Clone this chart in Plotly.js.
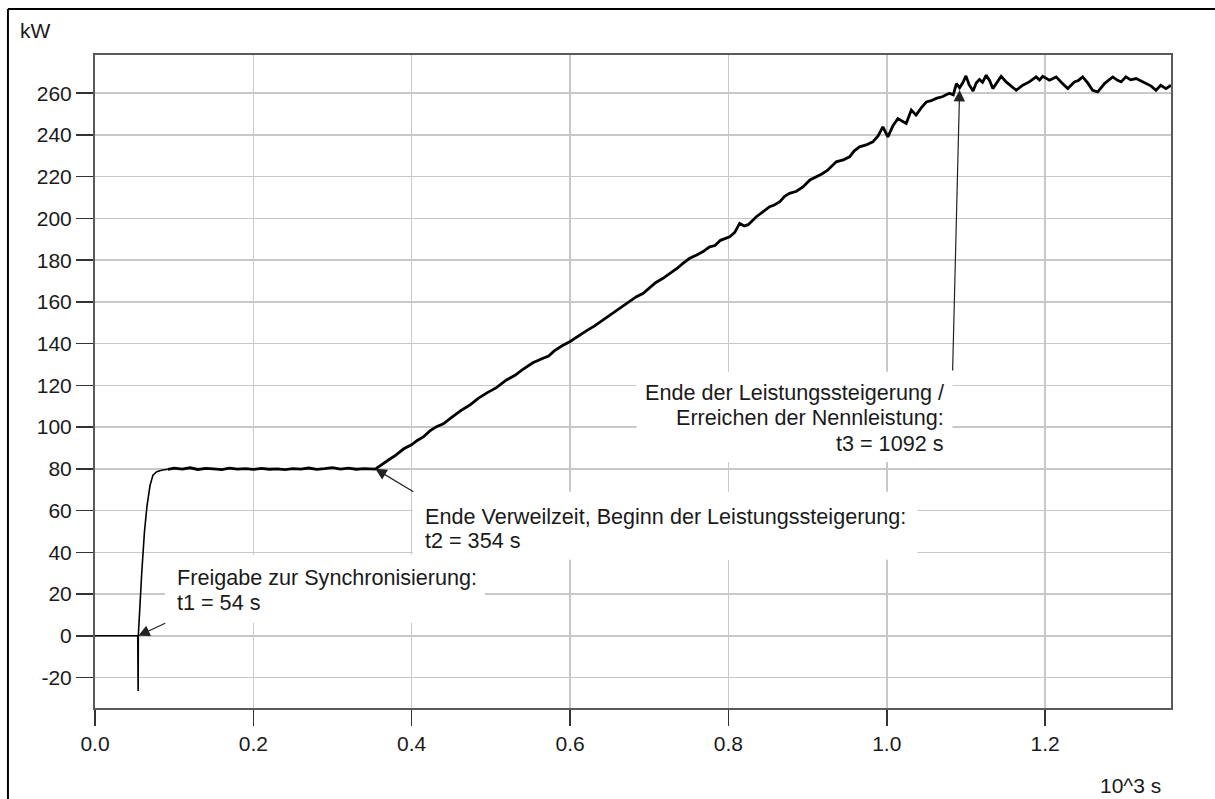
<!DOCTYPE html>
<html>
<head>
<meta charset="utf-8">
<script src="https://cdn.plot.ly/plotly-3.0.1.min.js"></script>
<style>html,body{margin:0;padding:0;background:#fff;}#chart{width:1215px;height:799px;}</style>
</head>
<body>
<div id="chart"></div>
<script>
// Start-up phase: time in 10^3 s and power in kW
const startTime = [0, 0.054, 0.0545, 0.0547, 0.059, 0.0625, 0.0656, 0.0695, 0.0732, 0.078, 0.084, 0.092];
const startPower = [0, 0, -26.5, 0, 30, 50, 62, 72, 77, 78.6, 79.3, 79.8];
// Dwell, ramp and rated-power phase: time in 10^3 s and power in kW
const mainTime = [
  0.092, 0.100, 0.110, 0.120, 0.130, 0.140, 0.150, 0.160, 0.170, 0.180, 0.190, 0.200, 0.210, 0.220,
  0.230, 0.240, 0.250, 0.260, 0.270, 0.280, 0.290, 0.300, 0.310, 0.320, 0.330, 0.340, 0.354,
  0.365, 0.372, 0.380, 0.390, 0.3997, 0.407, 0.415, 0.423, 0.4313, 0.440, 0.450, 0.462, 0.4734,
  0.484, 0.495, 0.507, 0.5197, 0.530, 0.540, 0.553, 0.5659, 0.573, 0.580, 0.590, 0.5996, 0.610,
  0.620, 0.631, 0.6417, 0.651, 0.660, 0.672, 0.6838, 0.692, 0.700, 0.708, 0.7174, 0.726, 0.735,
  0.743, 0.7511, 0.760, 0.768, 0.7763, 0.783, 0.790, 0.8016, 0.808, 0.8142, 0.820, 0.825, 0.8353,
  0.844, 0.8521, 0.858, 0.865, 0.871, 0.8773, 0.886, 0.8941, 0.903, 0.911, 0.918, 0.925, 0.9362,
  0.945, 0.953, 0.959, 0.9657, 0.974, 0.9824, 0.989, 0.9951, 1.0014, 1.008, 1.014, 1.0246, 1.031,
  1.037, 1.044, 1.050, 1.056, 1.0625, 1.070, 1.079, 1.084, 1.088, 1.092,
  1.096, 1.100, 1.104, 1.109, 1.113, 1.117, 1.121, 1.1256, 1.130, 1.134, 1.139, 1.1445, 1.1508,
  1.157, 1.1635, 1.1718, 1.176, 1.180, 1.1887, 1.193, 1.197, 1.2055, 1.210, 1.214, 1.221, 1.2286,
  1.237, 1.242, 1.2475, 1.254, 1.260, 1.2665, 1.275, 1.280, 1.2854, 1.291, 1.296, 1.302, 1.308,
  1.315, 1.321, 1.3275, 1.334, 1.340, 1.346, 1.3527, 1.359
];
const mainPower = [
  79.8, 80.3, 79.9, 80.5, 79.7, 80.2, 80.0, 79.6, 80.3, 79.9, 80.1, 79.7, 80.2, 79.8,
  80.0, 79.6, 80.1, 79.9, 80.4, 79.7, 80.1, 80.6, 79.9, 80.3, 79.8, 80.1, 79.9,
  83.0, 84.6, 86.6, 89.6, 91.5, 93.6, 95.4, 98.2, 100.2, 101.6, 104.5, 107.9, 110.6,
  113.8, 116.4, 118.9, 122.6, 124.7, 127.5, 130.8, 133.0, 134.1, 136.5, 139.0, 140.9, 143.6,
  146.0, 148.5, 151.3, 153.9, 156.2, 159.2, 162.5, 164.0, 166.5, 169.2, 171.3, 173.4, 176.0,
  178.6, 180.9, 182.5, 184.1, 186.4, 187.0, 189.5, 191.2, 193.3, 197.6, 196.4, 197.0, 200.8,
  203.1, 205.6, 206.4, 208.0, 210.6, 212.0, 213.0, 215.1, 218.4, 219.9, 221.3, 223.0, 227.1,
  228.0, 229.5, 232.4, 234.3, 235.2, 236.7, 239.5, 243.9, 239.1, 244.6, 247.8, 245.5, 251.9,
  249.5, 253.2, 255.8, 256.4, 257.5, 258.3, 260.0, 259.2, 264.6, 262.6,
  265.0, 268.3, 264.1, 261.0, 264.9, 266.6, 265.2, 268.6, 266.0, 262.2, 265.3, 268.1, 265.4,
  263.6, 261.4, 263.8, 264.5, 265.4, 267.8, 266.3, 268.1, 266.2, 267.0, 267.8, 265.0, 262.2,
  265.4, 266.1, 267.8, 264.8, 261.4, 260.6, 264.6, 266.0, 267.8, 266.3, 265.4, 267.8, 266.4,
  267.0, 265.9, 264.6, 263.4, 261.4, 263.8, 262.2, 263.8
];
const xTickVals = [0, 0.2, 0.4, 0.6, 0.8, 1.0, 1.2];
const xTickText = ["0.0", "0.2", "0.4", "0.6", "0.8", "1.0", "1.2"];
const yTickVals = [-20, 0, 20, 40, 60, 80, 100, 120, 140, 160, 180, 200, 220, 240, 260];
const yTickText = yTickVals.map(String);
const yUnit = "kW";
const xUnit = "10^3 s";
const note1 = ["Freigabe zur Synchronisierung:", "t1 = 54 s"];
const note2 = ["Ende Verweilzeit, Beginn der Leistungssteigerung:", "t2 = 354 s"];
const note3 = ["Ende der Leistungssteigerung /", "Erreichen der Nennleistung:", "t3 = 1092 s"];
const events = [[0.0547, 0], [0.354, 80], [1.092, 261.5]];

const FONT = "Liberation Sans, Arial, sans-serif";
const txt = {family: FONT, size: 21, color: "#1a1a1a"};
const noteFont = {family: FONT, size: 21.6, color: "#1a1a1a"};

const traces = [
  {x: startTime, y: startPower, type: "scatter", mode: "lines",
   line: {color: "#000", width: 1.6}, hoverinfo: "skip"},
  {x: mainTime, y: mainPower, type: "scatter", mode: "lines",
   line: {color: "#000", width: 2.8}, hoverinfo: "skip"}
];

function lineAnn(x, y, text, anchor) {
  return {x: x, y: y, xref: "x", yref: "y", text: text, showarrow: false,
    xanchor: anchor, yanchor: "middle", font: noteFont, align: anchor};
}
function arrowAnn(pt, ax, ay) {
  return {x: pt[0], y: pt[1], xref: "x", yref: "y", text: "", showarrow: true,
    ax: ax, ay: ay, arrowhead: 2, arrowsize: 1.9, arrowwidth: 1.2, arrowcolor: "#222", standoff: 0};
}

const annotations = [
  lineAnn(0.1010, 27.8, note1[0], "left"),
  lineAnn(0.1010, 15.8, note1[1], "left"),
  lineAnn(0.4140, 57.0, note2[0], "left"),
  lineAnn(0.4140, 45.5, note2[1], "left"),
  lineAnn(1.0745, 116.6, note3[0], "right"),
  lineAnn(1.0745, 104.4, note3[1], "right"),
  lineAnn(1.0745, 92.0, note3[2], "right"),
  arrowAnn(events[0], 28.4, -13.3),
  arrowAnn(events[1], 39.6, 23.8),
  arrowAnn(events[2], -7, 282),
  {x: -0.0715, y: 1.0375, xref: "paper", yref: "paper", text: yUnit, showarrow: false,
    xanchor: "left", yanchor: "middle", font: txt},
  {x: 0.9925, y: -0.1194, xref: "paper", yref: "paper", text: xUnit, showarrow: false,
    xanchor: "right", yanchor: "middle", font: txt}
];

function maskBox(x0, x1, y0, y1) {
  return {type: "rect", xref: "x", yref: "y", x0: x0, x1: x1, y0: y0, y1: y1,
    fillcolor: "#fff", line: {width: 0}, layer: "between"};
}
const shapes = [
  maskBox(0.0884, 0.4923, 6.2, 38.8),
  maskBox(0.4014, 1.0388, 36.4, 69.0),
  maskBox(0.6841, 1.0830, 83.3, 126.5),
  // outer page frame (left and top edges)
  {type: "line", xref: "paper", yref: "paper", x0: -0.0809, x1: -0.0809, y0: 1.0704, y1: -0.16,
    line: {color: "#000", width: 2}},
  {type: "line", xref: "paper", yref: "paper", x0: -0.0809, x1: 1.06, y0: 1.0704, y1: 1.0704,
    line: {color: "#000", width: 2}}
];

const layout = {
  width: 1215, height: 799,
  margin: {l: 95, r: 44, t: 55, b: 91, pad: 0},
  paper_bgcolor: "#fff", plot_bgcolor: "#fff",
  showlegend: false,
  font: txt,
  xaxis: {
    range: [0, 1.359], tickvals: xTickVals, ticktext: xTickText,
    showgrid: true, gridcolor: "#c8c8c8", gridwidth: 1.5,
    zeroline: false, showline: true, mirror: true, linecolor: "#5a5a5a", linewidth: 2,
    ticks: "outside", ticklen: 16, tickwidth: 1.5, tickcolor: "#333",
    tickfont: txt, fixedrange: true
  },
  yaxis: {
    range: [-34.6, 278.3], tickvals: yTickVals, ticktext: yTickText,
    showgrid: true, gridcolor: "#c8c8c8", gridwidth: 1.5,
    zeroline: false, showline: true, mirror: true, linecolor: "#5a5a5a", linewidth: 2,
    ticks: "outside", ticklen: 17, tickwidth: 1.5, tickcolor: "#333",
    tickfont: txt, fixedrange: true
  },
  annotations: annotations,
  shapes: shapes
};

Plotly.newPlot("chart", traces, layout, {displayModeBar: false, staticPlot: true});
</script>
</body>
</html>
